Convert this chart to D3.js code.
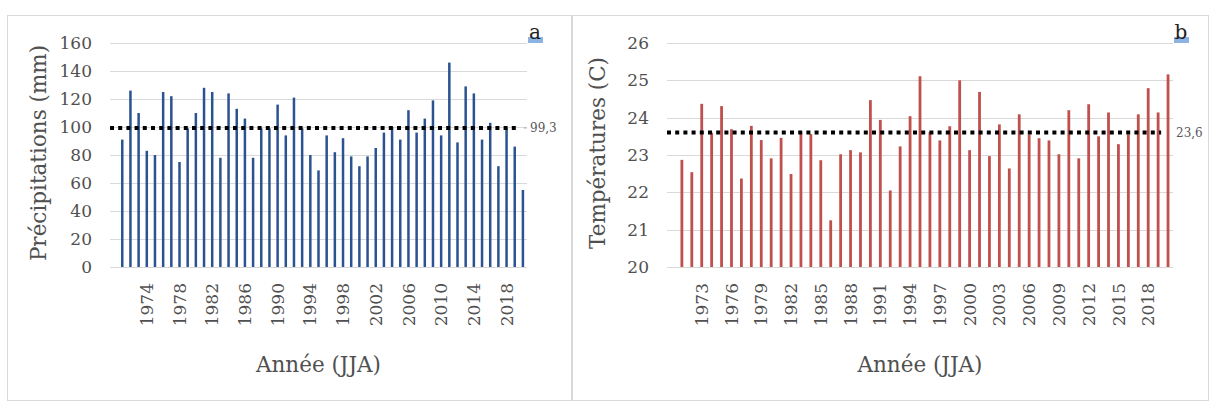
<!DOCTYPE html>
<html>
<head>
<meta charset="utf-8">
<script src="https://cdn.jsdelivr.net/npm/d3@7"></script>
<style>
  body { margin: 0; background: #fff; }
  text { font-family: "DejaVu Serif", serif; }
</style>
</head>
<body>
<svg id="chart" width="1209" height="408"></svg>
<script>
const years = d3.range(1971, 2021)

const precipitation = [
  91, 126, 110, 83, 80, 125, 122, 75, 99, 110,
  128, 125, 78, 124, 113, 106, 78, 99, 99, 116,
  94, 121, 99, 80, 69, 94, 82, 92, 79, 72,
  79, 85, 96, 100, 91, 112, 96, 106, 119, 94,
  146, 89, 129, 124, 91, 103, 72, 99, 86, 55
]

const temperature = [
  22.87, 22.54, 24.37, 23.6, 24.31, 23.69, 22.37, 23.78, 23.4, 22.91,
  23.46, 22.49, 23.6, 23.56, 22.86, 21.25, 23.02, 23.13, 23.07, 24.47,
  23.94, 22.05, 23.23, 24.04, 25.11, 23.61, 23.39, 23.77, 25.0, 23.13,
  24.69, 22.97, 23.82, 22.64, 24.09, 23.55, 23.45, 23.39, 23.02, 24.2,
  22.91, 24.36, 23.5, 24.14, 23.29, 23.55, 24.09, 24.79, 24.14, 25.16
]

const precipMean = 99.3
const tempMean = 23.6

const precipTicks = [0, 20, 40, 60, 80, 100, 120, 140, 160]
const tempTicks = [20, 21, 22, 23, 24, 25, 26]

const precipYearLabels = [1974, 1978, 1982, 1986, 1990, 1994, 1998, 2002, 2006, 2010, 2014, 2018]
const tempYearLabels = [1973, 1976, 1979, 1982, 1985, 1988, 1991, 1994, 1997, 2000, 2003, 2006, 2009, 2012, 2015, 2018]

const fr = d3.formatLocale({ decimal: ',', thousands: ' ', grouping: [3], currency: ['', ' €'] })
const fmtMean = fr.format('.1f')

const svg = d3.select('#chart')

const defs = svg.append('defs')
defs.append('filter')
  .attr('id', 'glow')
  .attr('x', '-5%').attr('y', '-300%')
  .attr('width', '110%').attr('height', '700%')
  .append('feGaussianBlur')
  .attr('stdDeviation', 2.5)

function drawPanel(o) {
  const g = svg.append('g')

  g.append('rect')
    .attr('x', o.box[0] + 0.5)
    .attr('y', o.box[1] + 0.5)
    .attr('width', o.box[2])
    .attr('height', o.box[3])
    .attr('fill', 'none')
    .attr('stroke', '#d9d9d9')

  const x = d3.scaleLinear()
    .domain([years[0] - 1.5, years[years.length - 1] + 0.5])
    .range([o.left, o.right])

  const y = d3.scaleLinear()
    .domain(o.yDomain)
    .range([o.bottom, o.top])

  g.selectAll('.grid')
    .data(o.ticks)
    .join('line')
    .attr('class', 'grid')
    .attr('x1', o.left)
    .attr('x2', o.right)
    .attr('y1', d => Math.round(y(d)) + 0.5)
    .attr('y2', d => Math.round(y(d)) + 0.5)
    .attr('stroke', '#d9d9d9')
    .attr('stroke-width', 1)

  g.selectAll('.ytick')
    .data(o.ticks)
    .join('text')
    .attr('class', 'ytick')
    .attr('x', o.left - 18)
    .attr('y', d => y(d))
    .attr('dy', '0.36em')
    .attr('text-anchor', 'end')
    .attr('font-size', 17)
    .attr('fill', '#505050')
    .text(d => d)

  g.selectAll('.bar')
    .data(o.values)
    .join('rect')
    .attr('class', 'bar')
    .attr('x', (d, i) => x(years[i]) - o.barWidth / 2)
    .attr('y', d => y(d))
    .attr('width', o.barWidth)
    .attr('height', d => y(o.yDomain[0]) - y(d))
    .attr('fill', o.color)

  g.selectAll('.xtick')
    .data(o.yearLabels)
    .join('text')
    .attr('class', 'xtick')
    .attr('transform', d => `translate(${x(d)},${o.bottom + 16}) rotate(-90)`)
    .attr('dy', '0.36em')
    .attr('text-anchor', 'end')
    .attr('font-size', 17)
    .attr('fill', '#505050')
    .text(d => d)

  const meanEnd = x(years[years.length - 2]) + 3
  const my = y(o.mean)

  g.append('line')
    .attr('x1', o.left)
    .attr('x2', meanEnd)
    .attr('y1', my)
    .attr('y2', my)
    .attr('stroke', '#7a7a7a')
    .attr('stroke-width', 7)
    .attr('opacity', 0.75)
    .attr('filter', 'url(#glow)')

  g.append('line')
    .attr('x1', o.left)
    .attr('x2', meanEnd)
    .attr('y1', my)
    .attr('y2', my)
    .attr('stroke', '#000')
    .attr('stroke-width', 4)
    .attr('stroke-dasharray', '4 4.2')

  if (o.leader) {
    g.append('line')
      .attr('x1', meanEnd + 6)
      .attr('x2', meanEnd + 9)
      .attr('y1', my)
      .attr('y2', my)
      .attr('stroke', '#a6a6a6')
  }

  g.append('text')
    .attr('x', o.right + 3)
    .attr('y', my)
    .attr('dy', '0.36em')
    .attr('font-size', 12)
    .attr('fill', '#595959')
    .text(fmtMean(o.mean))

  g.append('rect')
    .attr('x', o.right + 1)
    .attr('y', o.top - 6)
    .attr('width', 15)
    .attr('height', 6)
    .attr('fill', '#8db3e2')

  g.append('text')
    .attr('x', o.right + 8)
    .attr('y', o.top - 4)
    .attr('text-anchor', 'middle')
    .attr('font-size', 20)
    .attr('fill', '#222')
    .text(o.letter)

  g.append('text')
    .attr('transform', `translate(${o.titleX},${(o.top + o.bottom) / 2 - 2}) rotate(-90)`)
    .attr('text-anchor', 'middle')
    .attr('font-size', 21.5)
    .attr('fill', '#505050')
    .text(o.yTitle)

  g.append('text')
    .attr('x', (o.left + o.right) / 2)
    .attr('y', 372)
    .attr('text-anchor', 'middle')
    .attr('font-size', 21.5)
    .attr('fill', '#505050')
    .text('Année (JJA)')
}

drawPanel({
  box: [7, 15, 564, 385],
  left: 110, right: 527, top: 43, bottom: 267,
  values: precipitation,
  yDomain: [0, 160],
  ticks: precipTicks,
  yearLabels: precipYearLabels,
  color: '#2b5391',
  barWidth: 2.5,
  mean: precipMean,
  leader: true,
  letter: 'a',
  yTitle: 'Précipitations (mm)',
  titleX: 46
})

drawPanel({
  box: [572, 15, 636, 385],
  left: 667, right: 1173, top: 43, bottom: 267,
  values: temperature,
  yDomain: [20, 26],
  ticks: tempTicks,
  yearLabels: tempYearLabels,
  color: '#c0504d',
  barWidth: 2.8,
  mean: tempMean,
  leader: false,
  letter: 'b',
  yTitle: 'Températures (C)',
  titleX: 605
})
</script>
</body>
</html>
